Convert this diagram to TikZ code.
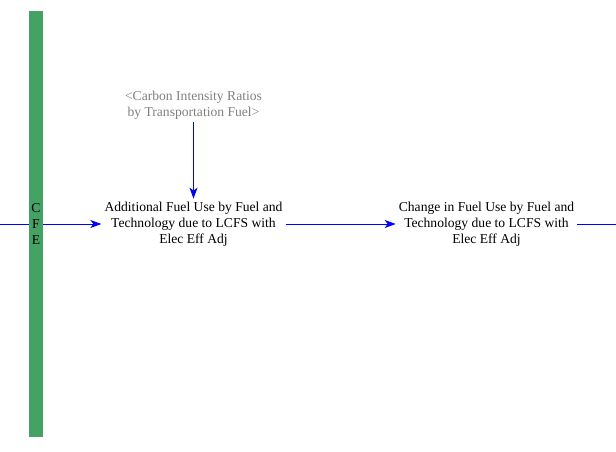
\documentclass[tikz,border=0pt]{standalone}
\usepackage{fontspec}
\setmainfont{Liberation Serif}
\usetikzlibrary{arrows.meta}
\definecolor{cfegreen}{RGB}{68,162,101}

\begin{document}
\begin{tikzpicture}[x=1pt,y=-1pt,
		every node/.style={font=\fontsize{13.6}{16}\selectfont,align=center,inner sep=3pt},
		var/.style={text=black},
		shadow var/.style={text=gray},
		link/.style={draw=blue,line width=0.9pt,-{Stealth[length=11pt,width=8pt,inset=3pt]}},
		cfe bar/.style={fill=cfegreen,minimum width=14pt,minimum height=426pt,inner sep=0pt}]
		\useasboundingbox (0,0) rectangle (616,452);
		\coordinate (in) at (0,224);
		\coordinate (out) at (616,224);
		\node[var] (add) at (193.5,224) {Additional Fuel Use by Fuel and\\Technology due to LCFS with\\Elec Eff Adj};
		\node[var] (chg) at (486.5,224) {Change in Fuel Use by Fuel and\\Technology due to LCFS with\\Elec Eff Adj};
		\node[shadow var] (ci) at (193.5,105) {<Carbon Intensity Ratios\\by Transportation Fuel>};
		\draw[link] (in) -- (add);
		\node[cfe bar] (cfe) at (36,224) {C\\F\\E};
		\draw[link] (ci) -- (add);
		\draw[link] (add) -- (chg);
		\draw[link,-] (chg) -- (out);
	\end{tikzpicture}
\end{document}
